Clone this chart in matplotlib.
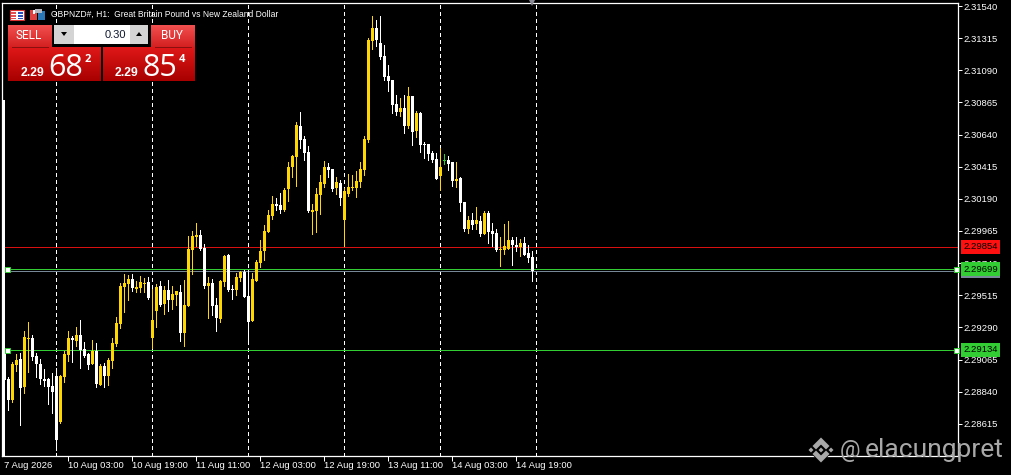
import numpy as np
import matplotlib
matplotlib.use("Agg")
import matplotlib.pyplot as plt
from matplotlib.colors import LinearSegmentedColormap
from matplotlib.patches import Rectangle, Polygon

# H1 candles, prices in points (1e-5)
opens = [229111, 228929, 228782, 229027, 229069, 228873, 229209, 229216, 229090, 229034, 228929, 228929, 228880, 228950,
         228628, 228943, 229097, 229216, 229195, 229237, 229139, 229104, 229034, 229125, 228887, 229020, 228950, 229055,
         229174, 229314, 229573, 229594, 229629, 229559, 229566, 229594, 229608, 229216, 229405, 229580, 229454, 229552,
         229482, 229517, 229538, 229251, 229440, 229832, 229923, 229937, 229846, 229580, 229601, 229447, 229349, 229608,
         229797, 229559, 229552, 229636, 229678, 229510, 229335, 229615, 229741, 229825, 229958, 230070, 230154, 230147,
         230112, 230259, 230413, 230483, 230700, 230609, 230518, 230098, 230105, 230217, 230294, 230413, 230399, 230266,
         230301, 230042, 230224, 230266, 230266, 230308, 230392, 230602, 231295, 231386, 231281, 231190, 231050, 231022,
         230854, 230798, 230826, 230700, 230910, 230665, 230791, 230574, 230574, 230511, 230469, 230350, 230458, 230462,
         230448, 230315, 230336, 230168, 229979, 230042, 230014, 230035, 229944, 230091, 229965, 229951, 229832, 229832,
         229839, 229902, 229867, 229853, 229881, 229811, 229783]
closes = [228922, 228782, 229034, 229062, 228866, 229223, 229216, 229083, 229034, 228929, 228915, 228873, 228838, 228502,
          228950, 229104, 229216, 229202, 229237, 229132, 229090, 229027, 229125, 228894, 229020, 228950, 229062, 229181,
          229321, 229580, 229601, 229629, 229566, 229573, 229608, 229601, 229496, 229342, 229573, 229447, 229552, 229482,
          229524, 229545, 229251, 229447, 229839, 229930, 229937, 229839, 229580, 229601, 229440, 229356, 229615, 229790,
          229552, 229552, 229643, 229678, 229503, 229328, 229629, 229748, 229825, 229965, 230077, 230154, 230140, 230112,
          230252, 230413, 230490, 230707, 230602, 230511, 230105, 230112, 230224, 230308, 230413, 230392, 230259, 230308,
          230196, 230245, 230273, 230273, 230315, 230399, 230609, 231302, 231386, 231302, 231183, 231043, 231015, 230847,
          230798, 230826, 230700, 230910, 230658, 230791, 230567, 230567, 230504, 230462, 230329, 230413, 230458, 230434,
          230315, 230329, 230161, 229979, 230042, 230007, 230042, 229944, 230091, 229958, 229944, 229832, 229839, 229860,
          229902, 229867, 229853, 229881, 229797, 229776, 229682]
highs = [229125, 228943, 229048, 229104, 229111, 229265, 229328, 229237, 229111, 229069, 228999, 228936, 228971, 229006,
         228957, 229125, 229265, 229230, 229293, 229342, 229188, 229111, 229202, 229181, 229034, 229041, 229076, 229216,
         229363, 229601, 229664, 229657, 229664, 229615, 229650, 229636, 229643, 229559, 229594, 229615, 229580, 229622,
         229580, 229545, 229587, 229622, 229930, 229965, 230021, 229972, 229874, 229643, 229629, 229496, 229622, 229797,
         229804, 229587, 229671, 229685, 229692, 229692, 229671, 229762, 229902, 230007, 230112, 230210, 230196, 230231,
         230266, 230448, 230497, 230728, 230798, 230630, 230560, 230154, 230266, 230357, 230455, 230441, 230399, 230343,
         230322, 230266, 230364, 230357, 230385, 230448, 230630, 231316, 231470, 231442, 231470, 231267, 231127, 231022,
         230917, 230896, 230917, 230973, 230910, 230805, 230798, 230588, 230574, 230525, 230511, 230546, 230504, 230490,
         230448, 230448, 230343, 230168, 230070, 230091, 230133, 230070, 230105, 230105, 230021, 229979, 229923, 230014,
         230035, 229923, 229923, 229909, 229923, 229867, 229825]
lows = [228900, 228712, 228768, 228985, 228607, 228831, 228978, 229062, 228943, 228894, 228880, 228754, 228691, 228432,
        228621, 228908, 229055, 229048, 229160, 229006, 229083, 228999, 229034, 228873, 228887, 228873, 228887, 229006,
        229160, 229286, 229398, 229482, 229545, 229538, 229538, 229538, 229489, 229146, 229293, 229440, 229384, 229405,
        229419, 229447, 229195, 229160, 229440, 229664, 229860, 229832, 229566, 229356, 229377, 229265, 229328, 229580,
        229545, 229489, 229517, 229615, 229503, 229188, 229335, 229615, 229713, 229762, 229958, 230049, 230112, 230091,
        230105, 230175, 230343, 230280, 230546, 230462, 230098, 229944, 229958, 230084, 230273, 230343, 230245, 230224,
        230147, 229860, 230210, 230252, 230203, 230273, 230357, 230588, 231239, 231260, 231169, 231022, 230945, 230791,
        230777, 230770, 230651, 230686, 230567, 230623, 230518, 230476, 230462, 230448, 230329, 230252, 230434, 230392,
        230280, 230273, 230105, 229965, 229951, 229979, 229979, 229930, 229944, 229881, 229860, 229825, 229720, 229804,
        229839, 229727, 229825, 229790, 229797, 229748, 229615]

price_ticks = [2.31540, 2.31315, 2.31090, 2.30865, 2.30640, 2.30415, 2.30190, 2.29965,
               2.29740, 2.29515, 2.29290, 2.29065, 2.28840, 2.28615]
time_bars = [0, 16, 32, 48, 64, 80, 96, 112, 128]
time_labels = ["7 Aug 2026", "10 Aug 03:00", "10 Aug 19:00", "11 Aug 11:00", "12 Aug 03:00",
               "12 Aug 19:00", "13 Aug 11:00", "14 Aug 03:00", "14 Aug 19:00"]
day_starts = [13, 37, 61, 85, 109, 133]
ask, bid = 2.29854, 2.29682
levels = [2.29699, 2.29134]

GOLD = "#FFD700"
LEVEL = "#32CD32"

plt.rcParams["font.family"] = "Liberation Sans"

fig = plt.figure(figsize=(10.11, 4.75), dpi=100, facecolor="black")
ax = fig.add_axes([2 / 1011, (475 - 456) / 475, 956 / 1011, 453 / 475], facecolor="black")

o = np.array(opens) / 1e5
c = np.array(closes) / 1e5
h = np.array(highs) / 1e5
l = np.array(lows) / 1e5
x = np.arange(len(o))
up = c > o
down = c < o
flat = c == o

for d in day_starts:
    ax.axvline(d, color="white", lw=0.72, ls=(0, (3, 3)), zorder=1, antialiased=False)

ax.axhline(ask, color="#d81010", lw=0.72, zorder=1)
ax.axhline(bid, color="#778899", lw=0.72, zorder=1)
for lv in levels:
    ax.axhline(lv, color=LEVEL, lw=0.72, zorder=1)
    ax.plot([0.0055, 0.9974], [lv, lv], ls="none", marker="s", ms=3.6, mfc="white", mec=LEVEL, mew=0.72,
            transform=ax.get_yaxis_transform(), zorder=5, clip_on=False)

for mask, col in ((up, GOLD), (down, "white"), (flat, LEVEL)):
    ax.vlines(x[mask], l[mask], h[mask], color=col, lw=0.72, zorder=3, antialiased=False)
    ax.bar(x[mask], np.maximum(np.abs(c - o)[mask], 0.00004), bottom=np.minimum(o, c)[mask], width=0.75,
           color=col, lw=0, zorder=4, antialiased=False)

# little shift marker on the top edge
ax.plot([132], [1.0], marker="v", ms=4.5, color="#8a8a96", mew=0, ls="none",
        transform=ax.get_xaxis_transform(), clip_on=False, zorder=6)

ax.set_xlim(-0.55, 238.45)
ax.set_ylim(2.28390, 2.31561)

ax.yaxis.tick_right()
ax.set_yticks(price_ticks)
ax.set_yticklabels(["%.5f" % p for p in price_ticks])
ax.set_xticks(time_bars)
ax.set_xticklabels([])
ax.tick_params(axis="y", colors="white", length=3.2, width=0.72, pad=0.5, labelsize=6.8)
ax.tick_params(axis="x", colors="white", length=3.6, width=0.72)
ax.get_xticklines()[0].set_visible(False)
for t, lab in zip(time_bars, time_labels):
    ax.annotate(lab, xy=(t, 0), xycoords=("data", "axes fraction"), xytext=(0, -10), textcoords="offset pixels",
                color="white", fontsize=6.8, ha="left", va="center", annotation_clip=False)
for s in ("left", "right", "top", "bottom"):
    ax.spines[s].set_color("white")
    ax.spines[s].set_linewidth(0.9)

# price tags on the scale
for val, col in ((bid, "#778899"), (ask, "#ff1010"), (levels[0], LEVEL), (levels[1], LEVEL)):
    ax.annotate("%.5f" % val, xy=(1, val), xycoords=("axes fraction", "data"), xytext=(5, 0),
                textcoords="offset pixels", color="black", fontsize=6.8, ha="left", va="center", zorder=8,
                annotation_clip=False, bbox=dict(boxstyle="square,pad=0.26", fc=col, ec="none"))

# terminal chrome, drawn in screen pixels
ui = fig.add_axes([0, 0, 1, 1], facecolor="none")
ui.axis("off")


def gradient(x0, y0, x1, y1, top, bottom):
    cmap = LinearSegmentedColormap.from_list("g", [top, bottom])
    ui.imshow(np.linspace(0, 1, 64)[:, None], extent=(x0, x1, y1, y0), cmap=cmap, aspect="auto", zorder=2)


# the lower part of the left edge is thicker
ui.add_patch(Rectangle((2.5, 100), 2.2, 356, fc="white", ec="none", zorder=2))

ui.text(51, 14.5, "GBPNZD#, H1:  Great Britain Pound vs New Zealand Dollar", color="white", fontsize=6.15,
        va="center", ha="left")

# header icons
ui.add_patch(Rectangle((9.5, 9.5), 14, 10.5, fc="white", ec="#d83030", lw=0.8, zorder=2))
for yy in (12, 15, 17.5):
    ui.add_patch(Rectangle((11, yy), 5, 1.5, fc="#e05050", ec="none", zorder=3))
    ui.add_patch(Rectangle((17.5, yy), 5, 1.5, fc="#2a50c0", ec="none", zorder=3))
ui.add_patch(Rectangle((30, 10), 7, 10, fc="#e04040", ec="none", zorder=2))
ui.add_patch(Rectangle((32.5, 10), 2.5, 4, fc="white", ec="none", zorder=3))
ui.add_patch(Rectangle((38, 11), 7, 9, fc="#2a78b8", ec="none", zorder=2))
ui.add_patch(Rectangle((35, 9), 7, 3.5, fc="#b8b8c0", ec="none", zorder=3))

# one click trading panel
gradient(8, 25, 52, 47, "#f25050", "#d42020")
gradient(151, 25, 195, 47, "#f25050", "#d42020")
gradient(8, 47, 101, 81, "#e01818", "#a80000")
gradient(103, 47, 195, 81, "#e01818", "#a80000")
ui.plot([12, 48], [46.5, 46.5], color="#8a1010", lw=0.72, zorder=3)
ui.plot([155, 191], [46.5, 46.5], color="#8a1010", lw=0.72, zorder=3)
ui.add_patch(Rectangle((54, 25), 20, 19, fc="#d4d4d4", ec="none", zorder=2))
ui.add_patch(Rectangle((74, 25), 56, 19, fc="white", ec="none", zorder=2))
ui.add_patch(Rectangle((130, 25), 18, 19, fc="#d4d4d4", ec="none", zorder=2))
ui.add_patch(Polygon([(61, 32), (67, 32), (64, 36)], fc="black", ec="none", zorder=3))
ui.add_patch(Polygon([(136, 36), (142, 36), (139, 32)], fc="black", ec="none", zorder=3))
ui.text(126, 35, "0.30", color="#101830", fontsize=8, ha="right", va="center", zorder=4)
ui.text(29, 35.5, "SELL", color="white", fontsize=8.5, ha="center", va="center", zorder=4, family="Roboto")
ui.text(172, 35.5, "BUY", color="white", fontsize=8.5, ha="center", va="center", zorder=4, family="Roboto")
for x0, big, small in ((21, "68", "2"), (115, "85", "4")):
    ui.text(x0, 72.5, "2.29", color="white", fontsize=8.8, fontweight="bold", ha="left", va="center", zorder=4,
            family="Liberation Sans")
    ui.text(x0 + 27, 68, big, color="white", fontsize=22, ha="left", va="center", zorder=4, family="Open Sans")
    ui.text(x0 + 64, 59.5, small, color="white", fontsize=8, fontweight="bold", ha="left", va="center", zorder=4,
            family="Open Sans")

# watermark
MARK = "#a8a8a8"
for shape in ([(821, 437), (830, 446), (826, 450), (821, 445), (816, 450), (812, 446)],
              [(821, 463), (830, 454), (826, 450), (821, 455), (816, 450), (812, 454)],
              [(821, 447), (824, 450), (821, 453), (818, 450)],
              [(808, 450), (811, 447), (814, 450), (811, 453)],
              [(828, 450), (831, 447), (834, 450), (831, 453)]):
    ui.add_patch(Polygon(shape, fc=MARK, ec="black", lw=0.5, zorder=6))
ui.text(840, 450, "@", color=MARK, fontsize=16.5, ha="left", va="center", zorder=6, family="Roboto")
ui.text(865, 449.5, "elacungpret", color=MARK, fontsize=19, ha="left", va="center", zorder=6, family="Roboto")

ui.set_xlim(0, 1011)
ui.set_ylim(475, 0)

fig.savefig("out.png", dpi=100, facecolor="black")
